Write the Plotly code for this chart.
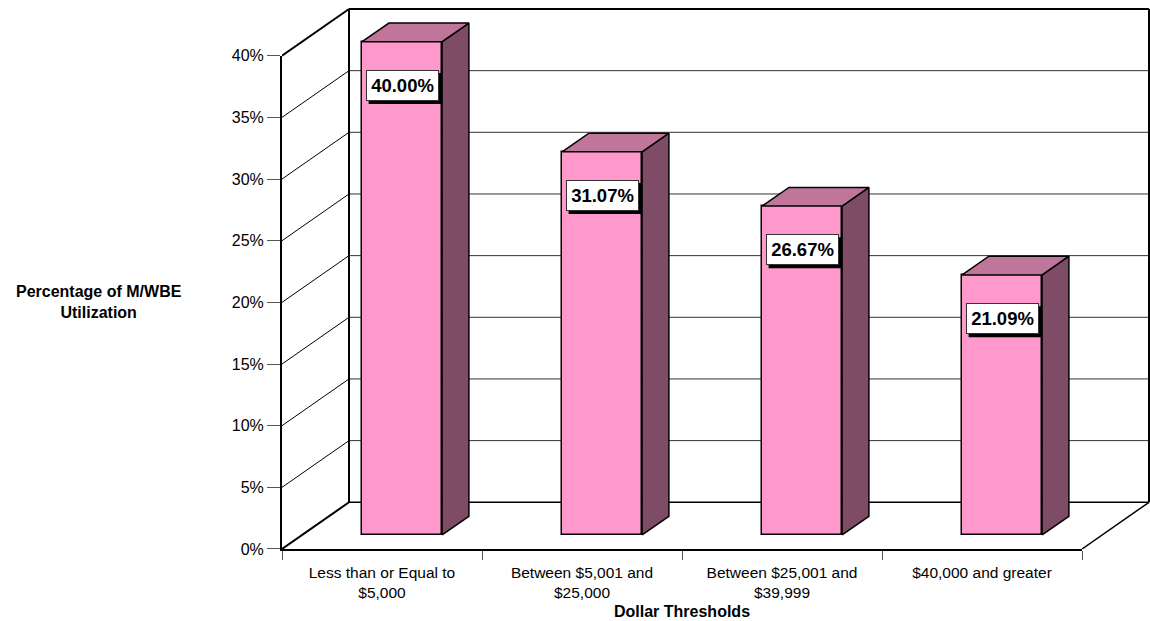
import plotly.graph_objects as go

# ---- data -------------------------------------------------------------
categories = [
    "Less than or Equal to<br>$5,000",
    "Between $5,001 and<br>$25,000",
    "Between $25,001 and<br>$39,999",
    "$40,000 and greater",
]
utilization = [40.00, 31.07, 26.67, 21.09]
y_ticks = [0, 5, 10, 15, 20, 25, 30, 35, 40]

# ---- 3-D projection settings (data units) -----------------------------
DEPTH_X = 0.335   # back-wall shift, in category widths
DEPTH_Y = 3.79    # back-wall shift, in percentage points
BAR_FRONT = 0.30  # depth fraction at which bar fronts sit
BAR_DEPTH = 0.40  # depth fraction occupied by a bar
BAR_WIDTH = 0.40
Y_MAX = y_ticks[-1]

W, H = 1150, 621
L, R, T, B = 282, 0, 5, 72
PX_PER_CAT = 200.0
PX_PER_PCT = 12.4
plot_w = W - L - R
plot_h = H - T - B
n = len(categories)

FONT = "Arial, Liberation Sans, sans-serif"
FRONT = "#FF99CC"
SIDE = "#7F4C65"
TOP = "#C0769B"


def paper_x(px):
    return (px - L) / plot_w


def paper_y(py):
    return (H - B - py) / plot_h


fig = go.Figure()

# invisible trace so the category/percent frame axes get drawn
fig.add_trace(go.Scatter(
    x=categories, y=utilization, mode="markers",
    marker=dict(opacity=0), hoverinfo="skip", showlegend=False,
    xaxis="x", yaxis="y",
))

# bar geometry
x_front = [i + BAR_FRONT * DEPTH_X for i in range(n)]
base = BAR_FRONT * DEPTH_Y
ddx = BAR_DEPTH * DEPTH_X
ddy = BAR_DEPTH * DEPTH_Y

fig.add_trace(go.Bar(
    x=x_front, y=utilization, base=base, width=BAR_WIDTH,
    marker=dict(color=FRONT, line=dict(color="black", width=1.5)),
    xaxis="x2", yaxis="y2", hoverinfo="skip", showlegend=False,
))

side_x, side_y, top_x, top_y = [], [], [], []
for xc, v in zip(x_front, utilization):
    xl, xr = xc - BAR_WIDTH / 2, xc + BAR_WIDTH / 2
    top = base + v
    side_x += [xr, xr + ddx, xr + ddx, xr, xr, None]
    side_y += [base, base + ddy, top + ddy, top, base, None]
    top_x += [xl, xr, xr + ddx, xl + ddx, xl, None]
    top_y += [top, top, top + ddy, top + ddy, top, None]

fig.add_trace(go.Scatter(
    x=side_x, y=side_y, mode="lines", fill="toself", fillcolor=SIDE,
    line=dict(color="black", width=1.5), xaxis="x2", yaxis="y2",
    hoverinfo="skip", showlegend=False,
))
fig.add_trace(go.Scatter(
    x=top_x, y=top_y, mode="lines", fill="toself", fillcolor=TOP,
    line=dict(color="black", width=1.5), xaxis="x2", yaxis="y2",
    hoverinfo="skip", showlegend=False,
))

# ---- walls and floor ----------------------------------------------------
bx0 = -0.5 + DEPTH_X
bx1 = n - 0.5 + DEPTH_X
shapes = []


def seg(x0, y0, x1, y1, width=1.0, color="black"):
    shapes.append(dict(type="line", xref="x2", yref="y2", x0=x0, y0=y0,
                       x1=x1, y1=y1, layer="below",
                       line=dict(color=color, width=width)))


for t in y_ticks[1:-1]:
    seg(bx0, t + DEPTH_Y, bx1, t + DEPTH_Y, 1.0, "#333333")
for t in y_ticks:
    edge = t in (y_ticks[0], y_ticks[-1])
    seg(-0.5, t, bx0, t + DEPTH_Y, 2.0 if edge else 1.0)
seg(bx0, DEPTH_Y, bx1, DEPTH_Y, 1.5)
seg(bx0, Y_MAX + DEPTH_Y, bx1, Y_MAX + DEPTH_Y, 2.0)
seg(bx0, DEPTH_Y, bx0, Y_MAX + DEPTH_Y, 2.0)
seg(bx1, DEPTH_Y, bx1, Y_MAX + DEPTH_Y, 2.0)
seg(n - 0.5, 0, bx1, DEPTH_Y, 1.5)

# ---- value labels (white box with black drop shadow) ---------------------
BOX_W, BOX_H, SHADOW = 73, 31, 3
annotations = []
for xc, v in zip(x_front, utilization):
    ly = base + v - 3.55
    shapes.append(dict(
        type="rect", xref="x2", yref="y2", layer="above",
        xsizemode="pixel", ysizemode="pixel", xanchor=xc, yanchor=ly,
        x0=-BOX_W / 2 + SHADOW, x1=BOX_W / 2 + SHADOW,
        y0=-BOX_H / 2 - SHADOW, y1=BOX_H / 2 - SHADOW,
        fillcolor="black", line=dict(width=0),
    ))
    annotations.append(dict(
        x=xc, y=ly, xref="x2", yref="y2", text=f"<b>{v:.2f}%</b>",
        showarrow=False, width=BOX_W - 6, height=BOX_H - 6,
        xanchor="center", yanchor="middle",
        bgcolor="white", bordercolor="#333333", borderwidth=1, borderpad=2,
        font=dict(family=FONT, size=18.5, color="black"),
    ))

annotations.append(dict(
    x=paper_x(99), y=paper_y(301), xref="paper", yref="paper",
    xanchor="center", yanchor="middle",
    showarrow=False, text="<b>Percentage of M/WBE<br>Utilization</b>",
    font=dict(family=FONT, size=16, color="black"),
))
annotations.append(dict(
    x=paper_x(L + n * PX_PER_CAT / 2), y=paper_y(612), xref="paper",
    yref="paper", xanchor="center", yanchor="middle",
    showarrow=False, text="<b>Dollar Thresholds</b>",
    font=dict(family=FONT, size=16, color="black"),
))

fig.update_layout(
    width=W, height=H,
    margin=dict(l=L, r=R, t=T, b=B, pad=0),
    paper_bgcolor="white", plot_bgcolor="rgba(0,0,0,0)",
    font=dict(family=FONT, color="black"),
    showlegend=False,
    bargap=0,
    xaxis=dict(
        type="category", domain=[0, n * PX_PER_CAT / plot_w],
        range=[-0.5, n - 0.5], anchor="y", showgrid=False,
        showline=True, linecolor="black", linewidth=2,
        ticks="outside", tickson="boundaries", ticklen=9,
        tickcolor="#555555", tickwidth=1, ticklabelstandoff=8,
        tickfont=dict(family=FONT, size=15.5, color="black"),
        fixedrange=True,
    ),
    yaxis=dict(
        domain=[0, Y_MAX * PX_PER_PCT / plot_h], range=[0, Y_MAX],
        anchor="x", showgrid=False, zeroline=False,
        showline=True, linecolor="black", linewidth=2,
        tickvals=y_ticks, ticktext=[f"{t}%" for t in y_ticks],
        ticks="outside", ticklen=13,
        tickcolor="#555555", tickwidth=1,
        tickfont=dict(family=FONT, size=16, color="black"),
        fixedrange=True,
    ),
    xaxis2=dict(
        domain=[0, 1], range=[-0.5, -0.5 + plot_w / PX_PER_CAT],
        anchor="y2", visible=False, fixedrange=True,
    ),
    yaxis2=dict(
        domain=[0, 1], range=[0, plot_h / PX_PER_PCT],
        anchor="x2", visible=False, fixedrange=True,
    ),
    shapes=shapes,
    annotations=annotations,
)

fig.write_html("out.html")
